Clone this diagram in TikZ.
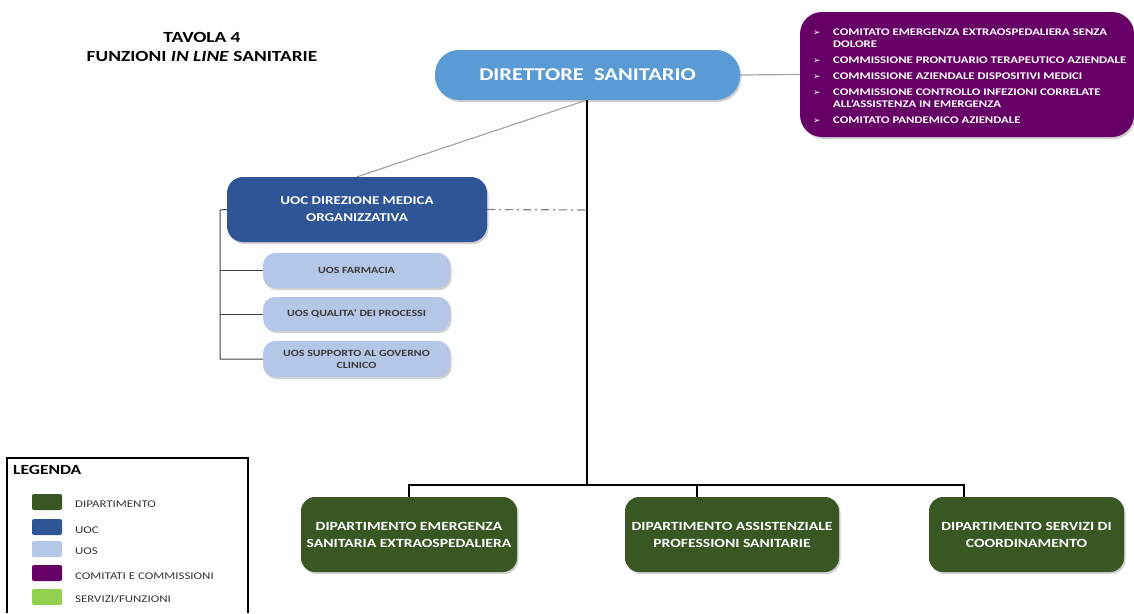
\documentclass[tikz,border=0pt]{standalone}
\usepackage{fontspec}
\setmainfont{Carlito}[FakeStretch=1.25]
\newfontfamily\symfont{DejaVu Sans}
\usetikzlibrary{shadows}
\definecolor{dirblue}{HTML}{5B9BD5}
\definecolor{uocblue}{HTML}{2F5597}
\definecolor{uosblue}{HTML}{B4C7E7}
\definecolor{comm}{HTML}{660066}
\definecolor{dipgreen}{HTML}{385723}
\definecolor{servgreen}{HTML}{92D050}
\definecolor{uostext}{HTML}{3A3A3A}
\newcommand{\bul}{\makebox[20pt][l]{\symfont\fontsize{9}{9}\selectfont ➢}}
\begin{document}
\begin{tikzpicture}[x=1pt,y=-1pt,
  shadowed/.style={drop shadow={shadow xshift=1.5pt,shadow yshift=-2pt,opacity=0.3,fill=black!60}},
  dirbox/.style={shadowed,fill=dirblue,rounded corners=24pt,text=white,font=\bfseries\fontsize{18}{21}\selectfont,align=center,inner sep=0pt},
  uocbox/.style={shadowed,fill=uocblue,rounded corners=16pt,text=white,font=\bfseries\fontsize{12}{17}\selectfont,align=center,inner sep=0pt},
  uosbox/.style={shadowed,fill=uosblue,rounded corners=12pt,text=uostext,font=\bfseries\fontsize{9.5}{12}\selectfont,align=center,inner sep=0pt,minimum width=187pt},
  dipbox/.style={shadowed,fill=dipgreen,rounded corners=14pt,text=white,font=\bfseries\fontsize{12.5}{17}\selectfont,align=center,inner sep=0pt,minimum height=75pt},
  commbox/.style={shadowed,fill=comm,rounded corners=22pt,inner sep=0pt},
  thin/.style={draw=gray!70,line width=1.2pt},
  tree/.style={draw=black!75,line width=1pt},
  main/.style={draw=black,line width=2pt},
  swatch/.style={rounded corners=2pt,minimum width=30pt,minimum height=16pt,inner sep=0pt},
  leglabel/.style={anchor=west,font=\fontsize{10.3}{12}\selectfont,text=black!80,inner sep=0pt},
]
\useasboundingbox (0,0) rectangle (1134,613);

% title
\node[font=\bfseries\fontsize{15.5}{19}\selectfont,align=center] (title) at (202,47) {TAVOLA 4\\FUNZIONI \textit{IN LINE} SANITARIE};

% boxes
\node[dirbox,minimum width=305pt,minimum height=50pt] (dir) at (587.5,75) {DIRETTORE\ \ SANITARIO};
\node[commbox,minimum width=334pt,minimum height=125pt] (comm) at (967,74.5) {};
\node[uocbox,minimum width=260pt,minimum height=65pt] (uoc) at (357,209.5) {UOC DIREZIONE MEDICA\\ORGANIZZATIVA};
\node[uosbox,minimum height=35pt] (uos1) at (356.5,270.5) {UOS FARMACIA};
\node[uosbox,minimum height=34pt] (uos2) at (356.5,314) {UOS QUALITA' DEI PROCESSI};
\node[uosbox,minimum height=36pt] (uos3) at (356.5,359) {UOS SUPPORTO AL GOVERNO\\CLINICO};
\node[dipbox,minimum width=216pt] (dip1) at (409,534.5) {DIPARTIMENTO EMERGENZA\\SANITARIA EXTRAOSPEDALIERA};
\node[dipbox,minimum width=214pt] (dip2) at (732,534.5) {DIPARTIMENTO ASSISTENZIALE\\PROFESSIONI SANITARIE};
\node[dipbox,minimum width=195pt] (dip3) at (1026.5,534.5) {DIPARTIMENTO SERVIZI DI\\COORDINAMENTO};

% committee list
\node[anchor=north west,inner sep=0pt,text=white,font=\bfseries\fontsize{10.2}{12}\selectfont,align=left] (commlist) at (813,27)
{\begin{tabular}{@{}l@{}l@{}}
\bul & COMITATO EMERGENZA EXTRAOSPEDALIERA SENZA\\
 & DOLORE\\[4pt]
\bul & COMMISSIONE PRONTUARIO TERAPEUTICO AZIENDALE\\[4pt]
\bul & COMMISSIONE AZIENDALE DISPOSITIVI MEDICI\\[4pt]
\bul & COMMISSIONE CONTROLLO INFEZIONI CORRELATE\\
 & ALL'ASSISTENZA IN EMERGENZA\\[4pt]
\bul & COMITATO PANDEMICO AZIENDALE
\end{tabular}};

% connectors
\coordinate (dirbot) at (587,100);
\coordinate (junc) at (587,485);
\coordinate (uoctie) at (587,210);
\draw[thin] (dir.east) -- (comm.west);
\draw[thin] (dirbot) -- (uoc.north);
\draw[main] (dirbot) -- (junc);
\draw[draw=gray,line width=1.2pt,dash pattern=on 8pt off 4pt on 2pt off 4pt] (uoc.east) -- (uoctie);
\draw[main] (409,485) -- (964,485);
\draw[main] (409,484) -- (dip1.north);
\draw[main] (697,484) -- (697,497);
\draw[main] (964,484) -- (964,497);
\coordinate (tl) at (220,210);
\draw[tree] (uoc.west) -- (tl) |- (uos3.west);
\draw[tree] (tl|-uos1.west) -- (uos1.west);
\draw[tree] (tl|-uos2.west) -- (uos2.west);

% legend
\draw[draw=black,line width=2pt] (7,613) -- (7,458) -- (248,458) -- (248,613);
\node[anchor=west,font=\bfseries\fontsize{14}{15}\selectfont,inner sep=0pt] (legt) at (13,470) {LEGENDA};
\node[swatch,fill=dipgreen] (s1) at (47,502) {};
\node[swatch,fill=uocblue] (s2) at (47,527) {};
\node[swatch,fill=uosblue] (s3) at (47,549) {};
\node[swatch,fill=comm] (s4) at (47,573) {};
\node[swatch,fill=servgreen] (s5) at (47,597) {};
\node[leglabel] (l1) at (75,504) {DIPARTIMENTO};
\node[leglabel] (l2) at (75,530) {UOC};
\node[leglabel] (l3) at (75,551) {UOS};
\node[leglabel] (l4) at (75,576) {COMITATI E COMMISSIONI};
\node[leglabel] (l5) at (75,599) {SERVIZI/FUNZIONI};
\end{tikzpicture}
\end{document}
